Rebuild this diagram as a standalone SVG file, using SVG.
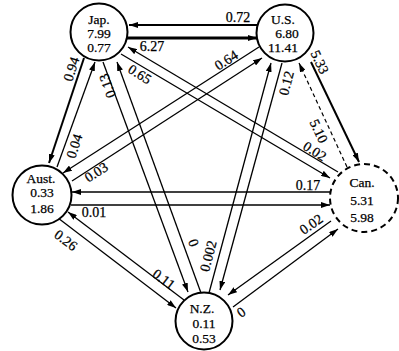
<svg xmlns="http://www.w3.org/2000/svg" width="399" height="351" viewBox="0 0 399 351">
<defs>
<marker id="ah" markerUnits="userSpaceOnUse" markerWidth="10" markerHeight="6" refX="9" refY="3" orient="auto">
<path d="M0,0 L9,3 L0,6 z" fill="#000"/>
</marker>
<style>
.e{stroke:#000;stroke-width:1.3;fill:none;marker-end:url(#ah)}
.t2{stroke-width:2}
.t3{stroke-width:2.8}
.d{stroke-dasharray:4,3;stroke-width:1.2}
.n{fill:#fff;stroke:#000;stroke-width:2}
.dn{stroke-dasharray:6,4}
text{font-family:"Liberation Serif","Times New Roman",serif;font-size:14px;fill:#000;stroke:#000;stroke-width:0.25;text-anchor:middle}
.nt{font-size:13.5px}
</style>
</defs>
<rect width="399" height="351" fill="#fff"/>
<g id="connectors">
<line class="e t2" x1="258" y1="25" x2="129" y2="25"/>
<line class="e t3" x1="127" y1="38" x2="257" y2="38"/>
<line class="e t2" x1="84" y1="58" x2="49" y2="163"/>
<line class="e" x1="57" y1="167" x2="95" y2="62"/>
<line class="e" x1="103" y1="62" x2="188" y2="292"/>
<line class="e" x1="201" y1="293" x2="117" y2="62"/>
<line class="e" x1="338" y1="172" x2="128" y2="47"/>
<line class="e" x1="121" y1="54" x2="330" y2="178"/>
<line class="e" x1="259" y1="47" x2="63" y2="173"/>
<line class="e" x1="72" y1="181" x2="262" y2="58"/>
<line class="e" x1="331" y1="192" x2="72" y2="192"/>
<line class="e" x1="71" y1="205" x2="330" y2="205"/>
<line class="e" x1="58" y1="218" x2="176" y2="308"/>
<line class="e" x1="184" y1="300" x2="68" y2="212"/>
<line class="e" x1="209" y1="293" x2="271" y2="63"/>
<line class="e" x1="282" y1="63" x2="220" y2="290"/>
<line class="e t2" x1="311" y1="62" x2="359" y2="162"/>
<line class="e d" x1="347" y1="167" x2="299" y2="63"/>
<line class="e" x1="331" y1="221" x2="228" y2="295"/>
<line class="e" x1="233" y1="307" x2="338" y2="229"/>
</g>
<g id="edge-labels">
<text x="238" y="22">0.72</text>
<text x="152" y="51">6.27</text>
<text transform="translate(71,69) rotate(-72)" y="5">0.94</text>
<text transform="translate(74,146) rotate(-72)" y="5">0.04</text>
<text transform="translate(107,86) rotate(-110)" y="5">0.13</text>
<text transform="translate(193,243) rotate(-110)" y="5">0</text>
<text transform="translate(286,83) rotate(-75)" y="5">0.12</text>
<text transform="translate(208,256) rotate(-75)" y="5">0.002</text>
<text transform="translate(140,74) rotate(32)" y="5">0.65</text>
<text transform="translate(315,151) rotate(32)" y="5">0.02</text>
<text transform="translate(226,60) rotate(-33)" y="5">0.64</text>
<text transform="translate(96,172) rotate(-33)" y="5">0.03</text>
<text x="308" y="190">0.17</text>
<text x="94" y="217">0.01</text>
<text transform="translate(66,240) rotate(37)" y="5">0.26</text>
<text transform="translate(164,279) rotate(37)" y="5">0.11</text>
<text transform="translate(311,224) rotate(-35)" y="5">0.02</text>
<text transform="translate(241,312) rotate(-35)" y="5">0</text>
<text transform="translate(320,62) rotate(65)" y="5">5.33</text>
<text transform="translate(319,131) rotate(65)" y="5">5.10</text>
</g>
<g id="jap">
<circle class="n" cx="99" cy="32" r="28.5"/>
<text class="nt" x="99" y="24">Jap.</text>
<text class="nt" x="99" y="38">7.99</text>
<text class="nt" x="99" y="52">0.77</text>
</g>
<g id="us">
<circle class="n" cx="285" cy="33" r="28.5"/>
<text class="nt" x="283" y="24">U.S.</text>
<text class="nt" x="287" y="38">6.80</text>
<text class="nt" x="283" y="52">11.41</text>
</g>
<g id="aust">
<circle class="n" cx="42" cy="195" r="29.5"/>
<text class="nt" x="41" y="183">Aust.</text>
<text class="nt" x="42" y="197">0.33</text>
<text class="nt" x="42" y="213">1.86</text>
</g>
<g id="can">
<circle class="n dn" cx="364" cy="198" r="34"/>
<text class="nt" x="362" y="187">Can.</text>
<text class="nt" x="362" y="205">5.31</text>
<text class="nt" x="362" y="222">5.98</text>
</g>
<g id="nz">
<circle class="n" cx="204" cy="321" r="28.5"/>
<text class="nt" x="202" y="313">N.Z.</text>
<text class="nt" x="204" y="328">0.11</text>
<text class="nt" x="204" y="343">0.53</text>
</g>
</svg>
